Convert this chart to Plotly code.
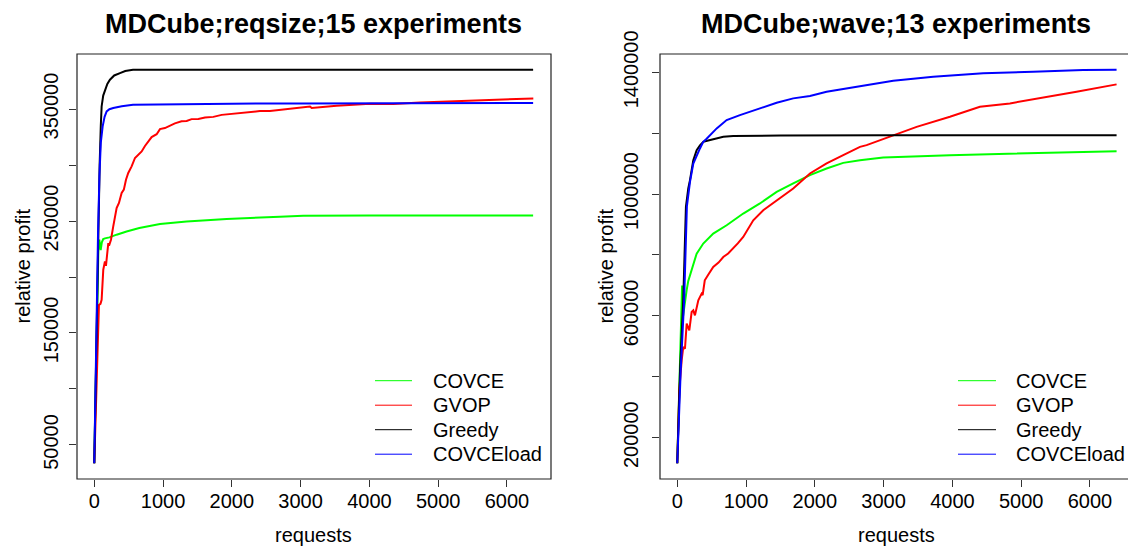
import plotly.graph_objects as go

W, H = 1128, 548
FONT = "Liberation Sans, Arial, Helvetica, sans-serif"

# ---------------- left panel: MDCube;reqsize;15 experiments ----------------
L_title = "MDCube;reqsize;15 experiments"
L_covce_x = [0, 20, 40, 60, 73, 93, 110, 130, 155, 220, 325, 470, 655, 955, 1343, 1925, 2699, 3038, 4000, 5000, 6380]
L_covce_y = [33660, 110000, 180000, 225000, 233300, 224000, 231000, 233900, 234500, 235400, 237800, 240700, 243700,
             247300, 249600, 251800, 253800, 254700, 254900, 255000, 255000]

L_gvop_x = [0, 40, 60, 68, 90, 107, 131, 155, 170, 189, 204, 215, 243, 276, 301, 325, 359, 398, 430, 461, 494, 543,
            592, 640, 689, 737, 785, 834, 907, 955, 1027, 1100, 1172, 1269, 1343, 1415, 1513, 1610, 1731, 1852, 1973,
            2118, 2263, 2408, 2554, 2699, 2748, 2943, 3136, 3161, 3524, 4009, 4347, 4735, 5220, 5705, 6383]
L_gvop_y = [33660, 120000, 170000, 175000, 176000, 179700, 206500, 214000, 210000, 221700, 230300, 228000, 233300,
            245200, 254100, 261600, 266100, 275000, 278000, 286900, 292900, 298800, 306300, 309000, 312100, 317000,
            321100, 325000, 327500, 332100, 333000, 335400, 337200, 339000, 339300, 341000, 341200, 342400, 343000,
            344800, 345500, 346600, 347400, 348200, 348300, 349200, 349400, 350900, 352300, 350900, 352900, 354700,
            354500, 355900, 357100, 358300, 359500]

L_greedy_x = [0, 20, 40, 60, 78, 95, 107, 130, 155, 190, 228, 290, 374, 450, 563, 800, 1500, 3000, 4500, 6380]
L_greedy_y = [33660, 110000, 180000, 250000, 300000, 335000, 352300, 362000, 367200, 372500, 376200, 380000, 382100,
              384000, 385000, 385100, 385100, 385100, 385100, 385100]

L_load_x = [0, 20, 35, 55, 75, 95, 122, 150, 180, 220, 276, 400, 563, 1000, 2000, 3000, 4000, 5000, 6380]
L_load_y = [33660, 110000, 180000, 240000, 290000, 320000, 334500, 343000, 347900, 349800, 350900, 352500, 353800,
            354300, 354800, 355000, 355200, 355300, 355400]

L_yticks = [50000, 100000, 150000, 200000, 250000, 300000, 350000]
L_yticktext = ["50000", "", "150000", "", "250000", "", "350000"]

# ---------------- right panel: MDCube;wave;13 experiments ----------------
R_title = "MDCube;wave;13 experiments"
R_covce_x = [0, 40, 70, 85, 112, 136, 160, 209, 282, 378, 523, 718, 959, 1202, 1445, 1686, 1929, 2171, 2413, 2656,
             2994, 3964, 4933, 5901, 6387]
R_covce_y = [115800, 420000, 700000, 600000, 651000, 684000, 715000, 749700, 804600, 837500, 870400, 897700, 936200,
             969300, 1007200, 1034900, 1062200, 1084200, 1102600, 1111500, 1120400, 1128000, 1133600, 1138800, 1141100]

R_gvop_x = [0, 15, 29, 64, 87, 112, 137, 175, 209, 233, 257, 306, 354, 369, 400, 450, 523, 600, 669, 740, 814, 880,
            959, 1030, 1105, 1250, 1445, 1686, 1929, 2171, 2413, 2656, 2753, 3140, 3480, 3964, 4400, 4836, 5320,
            5805, 6387]
R_gvop_y = [115800, 256300, 354900, 453600, 497400, 492100, 574400, 552300, 612500, 618100, 601600, 651000, 673000,
            668000, 716800, 735000, 760500, 775000, 793400, 805000, 821000, 838000, 859200, 885000, 914100, 947000,
            980000, 1018400, 1067800, 1100600, 1128000, 1155300, 1160900, 1193700, 1221000, 1253900, 1286800,
            1298000, 1316400, 1336200, 1360500]

R_greedy_x = [0, 40, 87, 110, 126, 160, 185, 233, 282, 330, 378, 450, 523, 669, 814, 1500, 3000, 4500, 6387]
R_greedy_y = [115800, 420000, 651000, 850000, 957900, 1018400, 1045700, 1111500, 1144400, 1160000, 1171700, 1176000,
              1179600, 1188200, 1190500, 1192500, 1193500, 1193700, 1193700]

R_load_x = [0, 50, 100, 120, 140, 185, 233, 330, 378, 427, 573, 718, 911, 1202, 1445, 1686, 1929, 2171, 2510, 2753,
            3140, 3721, 4448, 5174, 5901, 6387]
R_load_y = [115800, 420000, 651000, 850000, 960000, 1040000, 1100600, 1150000, 1171700, 1182000, 1215800, 1243100,
            1259600, 1281600, 1300000, 1314500, 1322000, 1336200, 1349300, 1358200, 1372400, 1385500, 1396700,
            1402000, 1407600, 1408600]

R_yticks = [200000, 400000, 600000, 800000, 1000000, 1200000, 1400000]
R_yticktext = ["200000", "", "600000", "", "1000000", "", "1400000"]

x_ticks = [0, 1000, 2000, 3000, 4000, 5000, 6000]
series_names = ["COVCE", "GVOP", "Greedy", "COVCEload"]
series_colors = ["#00FF00", "#FF0000", "#000000", "#0000FF"]
x_label = "requests"
y_label = "relative profit"

# ---------------- layout geometry (pixels) ----------------
box_top, box_bot = 54, 479
L_box = (77, 551)
R_box = (660, 1134)


def px(x):
    return x / W


def py(y):
    return 1 - y / H


fig = go.Figure()

left_series = [(L_covce_x, L_covce_y), (L_gvop_x, L_gvop_y), (L_greedy_x, L_greedy_y), (L_load_x, L_load_y)]
right_series = [(R_covce_x, R_covce_y), (R_gvop_x, R_gvop_y), (R_greedy_x, R_greedy_y), (R_load_x, R_load_y)]

for (xs, ys), name, col in zip(left_series, series_names, series_colors):
    fig.add_trace(go.Scatter(x=xs, y=ys, mode="lines", name=name, line=dict(color=col, width=2),
                             xaxis="x", yaxis="y", showlegend=False))
for (xs, ys), name, col in zip(right_series, series_names, series_colors):
    fig.add_trace(go.Scatter(x=xs, y=ys, mode="lines", name=name, line=dict(color=col, width=2),
                             xaxis="x2", yaxis="y2", showlegend=False))

axis_common = dict(showgrid=False, zeroline=False, showline=False, ticks="outside", ticklen=7, tickwidth=1,
                   automargin=False, tickcolor="#333333",
                   tickfont=dict(family=FONT, size=20, color="#000000"))

fig.update_layout(
    width=W, height=H, margin=dict(l=0, r=0, t=0, b=0, pad=0, autoexpand=False), autosize=False,
    plot_bgcolor="white", paper_bgcolor="white", showlegend=False,
    xaxis=dict(domain=[px(L_box[0]), px(L_box[1])], range=[-251, 6640], anchor="y",
               tickvals=x_ticks, ticklabelstandoff=-3, **axis_common),
    yaxis=dict(domain=[py(box_bot), py(box_top)], range=[19600, 399160], anchor="x",
               tickvals=L_yticks, ticktext=L_yticktext, tickangle=-90, ticklabelstandoff=3, **axis_common),
    xaxis2=dict(domain=[px(R_box[0]), 1.0], range=[-251, 6553], anchor="y2",
                tickvals=x_ticks, ticklabelstandoff=-3, **axis_common),
    yaxis2=dict(domain=[py(box_bot), py(box_top)], range=[64090, 1460260], anchor="x2",
                tickvals=R_yticks, ticktext=R_yticktext, tickangle=-90, ticklabelstandoff=6, **axis_common),
)

shapes = []
for bx in (L_box, R_box):
    shapes.append(dict(type="rect", xref="paper", yref="paper", x0=px(bx[0]), x1=px(bx[1]),
                       y0=py(box_bot), y1=py(box_top), line=dict(color="#222222", width=1.2)))

annotations = []
for bx, title in ((L_box, L_title), (R_box, R_title)):
    cx = (bx[0] + bx[1]) / 2
    annotations.append(dict(text=f"<b>{title}</b>", x=px(cx - 1), y=py(23.5), xref="paper", yref="paper",
                            xanchor="center", yanchor="middle", showarrow=False,
                            font=dict(family=FONT, size=27, color="#000000")))
    annotations.append(dict(text=x_label, x=px(cx - 1), y=py(535), xref="paper", yref="paper",
                            xanchor="center", yanchor="middle", showarrow=False,
                            font=dict(family=FONT, size=20, color="#000000")))
    annotations.append(dict(text=y_label, x=px(bx[0] - 55), y=py((box_top + box_bot) / 2), xref="paper",
                            yref="paper", xanchor="center", yanchor="middle", textangle=-90, showarrow=False,
                            font=dict(family=FONT, size=20, color="#000000")))

# legends (drawn in paper space, R-style)
legend_rows = [380.7, 405.2, 429.7, 454.2]
for lx0, lx1, tx in ((375, 412, 431), (958, 996, 1014)):
    for name, col, ry in zip(series_names, series_colors, legend_rows):
        shapes.append(dict(type="line", xref="paper", yref="paper", x0=px(lx0), x1=px(lx1), y0=py(ry), y1=py(ry),
                           line=dict(color=col, width=1)))
        annotations.append(dict(text=name, x=px(tx), y=py(ry), xref="paper", yref="paper", xanchor="left",
                                yanchor="middle", showarrow=False,
                                font=dict(family=FONT, size=20, color="#000000")))

fig.update_layout(shapes=shapes, annotations=annotations)
fig.write_html("out.html")
